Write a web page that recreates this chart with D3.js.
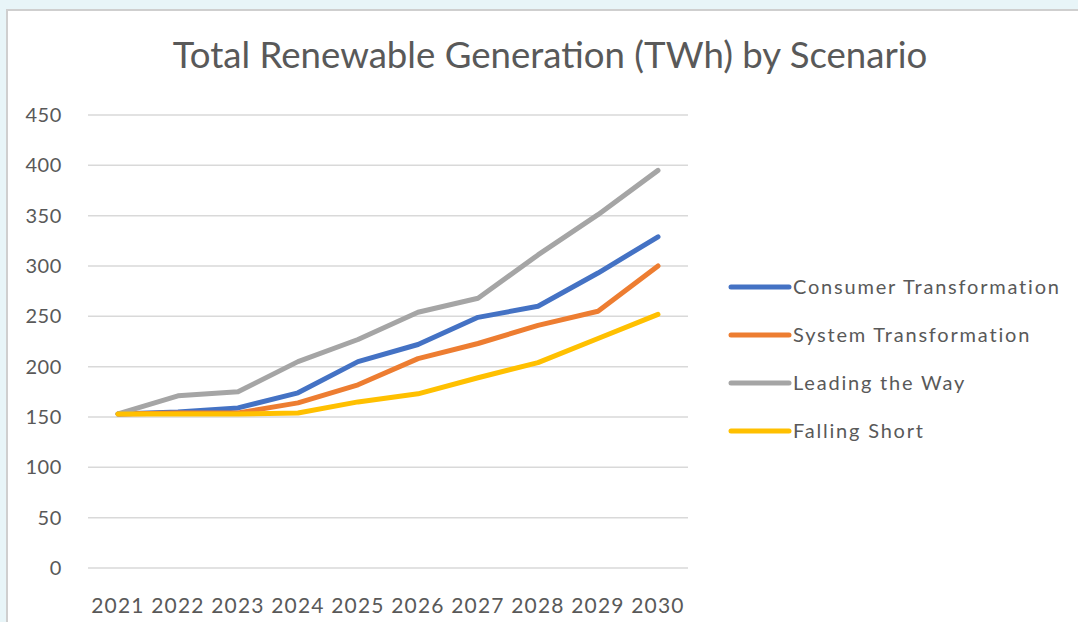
<!DOCTYPE html>
<html>
<head>
<meta charset="utf-8">
<script src="https://cdn.jsdelivr.net/npm/d3@7"></script>
<style>
  body { margin: 0; background: #e8f5f8; }
  svg { display: block; }
</style>
</head>
<body>
<div class="line-chart"></div>
<script>
const years = ['2021', '2022', '2023', '2024', '2025', '2026', '2027', '2028', '2029', '2030'];
const consumerTransformation = [153, 155, 159, 174, 205, 222, 249, 260, 293, 329];
const systemTransformation = [153, 154, 154, 164, 182, 208, 223, 241, 255, 300];
const leadingTheWay = [153, 171, 175, 205, 227, 254, 268, 311, 351, 395];
const fallingShort = [153, 153, 153, 154, 165, 173, 189, 204, 228, 252];
const seriesNames = ['Consumer Transformation', 'System Transformation', 'Leading the Way', 'Falling Short'];
const yTicks = [0, 50, 100, 150, 200, 250, 300, 350, 400, 450];

const series = [consumerTransformation, systemTransformation, leadingTheWay, fallingShort];
const colors = ['#4472c4', '#ed7d31', '#a5a5a5', '#ffc000'];
const font = 'Lato, "Open Sans", sans-serif';
const textColor = '#595959';

const W = 1078;
const H = 622;
const margin = { top: 115, right: 390, bottom: 54, left: 88 };
const width = W - margin.left - margin.right;
const height = H - margin.top - margin.bottom;

const root = d3
  .select('.line-chart')
  .append('svg')
  .attr('width', W)
  .attr('height', H);

// chart frame
root
  .append('rect')
  .attr('x', 7)
  .attr('y', 10)
  .attr('width', W + 20)
  .attr('height', H + 20)
  .attr('fill', '#fff')
  .attr('stroke', '#cfcfcf')
  .attr('stroke-width', 2);

// title
const title = root
  .append('text')
  .attr('x', 550)
  .attr('y', 68)
  .attr('text-anchor', 'middle')
  .attr('fill', textColor)
  .style('font-family', font)
  .attr('font-size', 34)
  .text('Total Renewable Generation (TWh) by Scenario');
const tw = title.node().getComputedTextLength();
title.attr('font-size', 34 * 755 / tw);

const svg = root
  .append('g')
  .attr('transform', 'translate(' + margin.left + ',' + margin.top + ')');

const x = d3.scaleBand().domain(years).range([0, width]);
const y = d3.scaleLinear().domain([0, 450]).range([height, 0]);

// gridlines
svg
  .selectAll('.grid')
  .data(yTicks)
  .enter()
  .append('line')
  .attr('x1', 0)
  .attr('x2', width)
  .attr('y1', d => y(d))
  .attr('y2', d => y(d))
  .attr('stroke', '#d9d9d9')
  .attr('stroke-width', 1.5);

// y axis
const yAxis = svg
  .append('g')
  .call(d3.axisLeft(y).tickValues(yTicks).tickSize(0).tickPadding(26));
yAxis.select('.domain').remove();
yAxis
  .selectAll('text')
  .attr('fill', textColor)
  .style('font-family', font)
  .style('letter-spacing', '0.6px')
  .attr('font-size', 20);

// x axis
const xAxis = svg
  .append('g')
  .attr('transform', 'translate(0,' + height + ')')
  .call(d3.axisBottom(x).tickSize(0).tickPadding(30));
xAxis.select('.domain').remove();
xAxis
  .selectAll('text')
  .attr('fill', textColor)
  .style('font-family', font)
  .style('letter-spacing', '1.2px')
  .attr('font-size', 21);

// lines
const line = d3
  .line()
  .x((d, i) => x(years[i]) + x.bandwidth() / 2)
  .y(d => y(d));

svg
  .selectAll('.series')
  .data(series)
  .enter()
  .append('path')
  .attr('fill', 'none')
  .attr('stroke', (d, i) => colors[i])
  .attr('stroke-width', 5)
  .attr('stroke-linecap', 'round')
  .attr('stroke-linejoin', 'round')
  .attr('d', line);

// legend
const legend = root
  .selectAll('.legend')
  .data(seriesNames)
  .enter()
  .append('g')
  .attr('transform', (d, i) => 'translate(731,' + (287 + i * 48) + ')');

legend
  .append('line')
  .attr('x1', 0)
  .attr('x2', 58)
  .attr('stroke', (d, i) => colors[i])
  .attr('stroke-width', 5)
  .attr('stroke-linecap', 'round');

legend
  .append('text')
  .attr('x', 62)
  .attr('dy', '0.35em')
  .attr('fill', textColor)
  .style('font-family', font)
  .style('letter-spacing', '1.8px')
  .attr('font-size', 20)
  .text(d => d);
</script>
</body>
</html>
